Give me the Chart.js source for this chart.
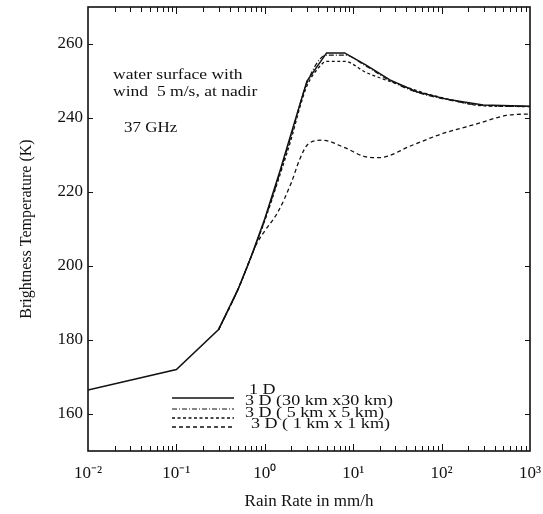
<!DOCTYPE html>
<html>
<head>
<meta charset="utf-8">
<script src="https://cdn.jsdelivr.net/npm/chart.js@4.4.0/dist/chart.umd.min.js"></script>
<style>
  body { margin: 0; background: #fff; }
  #wrap { width: 543px; height: 514px; }
</style>
</head>
<body>
<div id="wrap"><canvas id="tbChart"></canvas></div>
<script>
// rain rate (mm/h) -> brightness temperature (K)
var rain1D = [0.01, 0.1, 0.3, 0.5, 0.7, 1, 1.5, 2, 3, 5, 8, 14, 26, 52, 114, 295, 1000];
var tb1D = [166.5, 172, 182.8, 193.8, 202.5, 212.8, 226, 236, 250, 257.6, 257.6, 254.3, 250.3, 247.1, 245.1, 243.5, 243.2];

// the 3D curves sit on top of the 1D one below 0.3 mm/h
var rain30 = [0.3, 0.5, 0.7, 1, 1.5, 2, 3, 5, 8, 14, 26, 52, 114, 295, 1000];
var tb30 = [182.8, 193.8, 202.5, 212.5, 225.5, 235.5, 249.5, 257, 257, 254, 250.1, 247, 245, 243.4, 243.1];

var rain5 = [0.3, 0.5, 0.7, 1, 1.5, 2, 2.5, 3, 4, 5, 8, 14, 31, 57, 114, 295, 1000];
var tb5 = [182.8, 193.8, 202.5, 212.3, 225, 234.5, 243, 248.7, 253.4, 255.3, 255.3, 252.3, 249.3, 247.1, 245.2, 243.3, 243.1];

var rain1 = [0.3, 0.5, 0.7, 0.8, 1, 1.4, 2, 2.5, 3.1, 4.5, 8, 14, 20, 45, 100, 250, 540, 1000];
var tb1 = [182.8, 193.8, 202.5, 205.8, 209.5, 214.5, 222.6, 229, 233, 234, 232, 229.5, 229.3, 232.5, 235.7, 238.4, 240.7, 241.1];

var xTickVals = [0.01, 0.1, 1, 10, 100, 1000];
var xTickLabels = ['10\u207B\u00B2', '10\u207B\u00B9', '10\u2070', '10\u00B9', '10\u00B2', '10\u00B3'];
var yTickVals = [160, 180, 200, 220, 240, 260];

var seriesLabels = ['1 D', '3 D (30 km x30 km)', '3 D ( 5 km x 5 km)', '3 D ( 1 km x 1 km)'];
var noteLines = ['water surface with', 'wind  5 m/s, at nadir', '37 GHz'];

function toPoints(xs, ys) {
  return xs.map(function (x, i) { return { x: x, y: ys[i] }; });
}

var serif = "'Liberation Serif', 'Times New Roman', serif";

function stretchText(ctx, text, x, y, sx) {
  ctx.save();
  ctx.translate(x, y);
  ctx.scale(sx, 1);
  ctx.fillText(text, 0, 0);
  ctx.restore();
}

// frame, inward ticks, note text and the hand-placed legend
var paperPlugin = {
  id: 'paper',
  afterDraw: function (chart) {
    var ctx = chart.ctx;
    var a = chart.chartArea;
    var xs = chart.scales.x;
    var ys = chart.scales.y;
    ctx.save();
    ctx.strokeStyle = '#111';
    ctx.lineWidth = 1.6;
    ctx.strokeRect(a.left, a.top, a.right - a.left, a.bottom - a.top);

    ctx.lineWidth = 1;
    ctx.beginPath();
    for (var d = -2; d < 3; d++) {
      for (var k = 1; k < 10; k++) {
        if (d === -2 && k === 1) continue;
        var px = Math.round(xs.getPixelForValue(k * Math.pow(10, d))) + 0.5;
        var len = k === 1 ? 7 : 5;
        ctx.moveTo(px, a.bottom);
        ctx.lineTo(px, a.bottom - len);
        ctx.moveTo(px, a.top);
        ctx.lineTo(px, a.top + len);
      }
    }
    yTickVals.forEach(function (v) {
      var py = Math.round(ys.getPixelForValue(v)) + 0.5;
      ctx.moveTo(a.left, py);
      ctx.lineTo(a.left + 5, py);
      ctx.moveTo(a.right, py);
      ctx.lineTo(a.right - 5, py);
    });
    ctx.stroke();

    ctx.fillStyle = '#111';
    ctx.textAlign = 'left';
    ctx.textBaseline = 'middle';
    ctx.font = '15px ' + serif;
    stretchText(ctx, noteLines[0], a.left + 25, a.top + 68, 1.17);
    stretchText(ctx, noteLines[1], a.left + 25, a.top + 85, 1.17);
    stretchText(ctx, noteLines[2], a.left + 36, a.top + 121, 1.13);

    // legend
    var lineY = [398, 409, 418, 427];
    var textX = [249, 245, 245, 251];
    var textY = [390, 401.5, 413, 424.5];
    ctx.font = '14px ' + serif;
    chart.data.datasets.forEach(function (ds, i) {
      ctx.beginPath();
      ctx.setLineDash(ds.borderDash || []);
      ctx.lineWidth = ds.borderWidth;
      ctx.moveTo(172, lineY[i]);
      ctx.lineTo(234, lineY[i]);
      ctx.stroke();
      ctx.setLineDash([]);
      stretchText(ctx, seriesLabels[i], textX[i], textY[i], 1.29);
    });
    ctx.restore();
  }
};

var ctxTb = document.getElementById('tbChart').getContext('2d');
var tbChart = new Chart(ctxTb, {
  type: 'line',
  data: {
    datasets: [{
      label: seriesLabels[0],
      data: toPoints(rain1D, tb1D),
      borderColor: '#111',
      borderWidth: 1.5,
      tension: 0
    }, {
      label: seriesLabels[1],
      data: toPoints(rain30, tb30),
      borderColor: '#111',
      borderWidth: 1.2,
      borderDash: [5, 2, 1, 2],
      cubicInterpolationMode: 'monotone'
    }, {
      label: seriesLabels[2],
      data: toPoints(rain5, tb5),
      borderColor: '#111',
      borderWidth: 1.3,
      borderDash: [3, 2.5],
      cubicInterpolationMode: 'monotone'
    }, {
      label: seriesLabels[3],
      data: toPoints(rain1, tb1),
      borderColor: '#111',
      borderWidth: 1.3,
      borderDash: [4, 3],
      cubicInterpolationMode: 'monotone'
    }]
  },
  options: {
    responsive: true,
    maintainAspectRatio: false,
    animation: false,
    layout: { padding: { top: 7, right: 13, left: 0, bottom: 0 } },
    elements: { point: { radius: 0 } },
    plugins: {
      legend: { display: false },
      tooltip: { enabled: false }
    },
    scales: {
      x: {
        type: 'logarithmic',
        min: 0.01,
        max: 1000,
        grid: { display: false, drawTicks: false },
        border: { display: false },
        afterBuildTicks: function (s) {
          s.ticks = xTickVals.map(function (v) { return { value: v }; });
        },
        afterFit: function (s) {
          s.height = 63;
          s.paddingLeft = 0;
          s.paddingRight = 0;
        },
        ticks: {
          autoSkip: false,
          maxRotation: 0,
          padding: 12,
          color: '#111',
          font: { family: serif, size: 17 },
          callback: function (v) {
            var i = xTickVals.indexOf(v);
            return i >= 0 ? xTickLabels[i] : '';
          }
        },
        title: {
          display: true,
          text: 'Rain Rate in mm/h',
          color: '#111',
          font: { family: serif, size: 17 },
          padding: { top: 0, bottom: 2 }
        }
      },
      y: {
        min: 150,
        max: 270,
        grid: { display: false, drawTicks: false },
        border: { display: false },
        afterBuildTicks: function (s) {
          s.ticks = yTickVals.map(function (v) { return { value: v }; });
        },
        afterFit: function (s) {
          s.width = 88;
          s.paddingTop = 0;
          s.paddingBottom = 0;
        },
        ticks: {
          padding: 5,
          color: '#111',
          font: { family: serif, size: 17 }
        },
        title: {
          display: true,
          text: 'Brightness Temperature (K)',
          color: '#111',
          font: { family: serif, size: 16 },
          padding: { top: 17, bottom: 0 }
        }
      }
    }
  },
  plugins: [paperPlugin]
});
</script>
</body>
</html>
